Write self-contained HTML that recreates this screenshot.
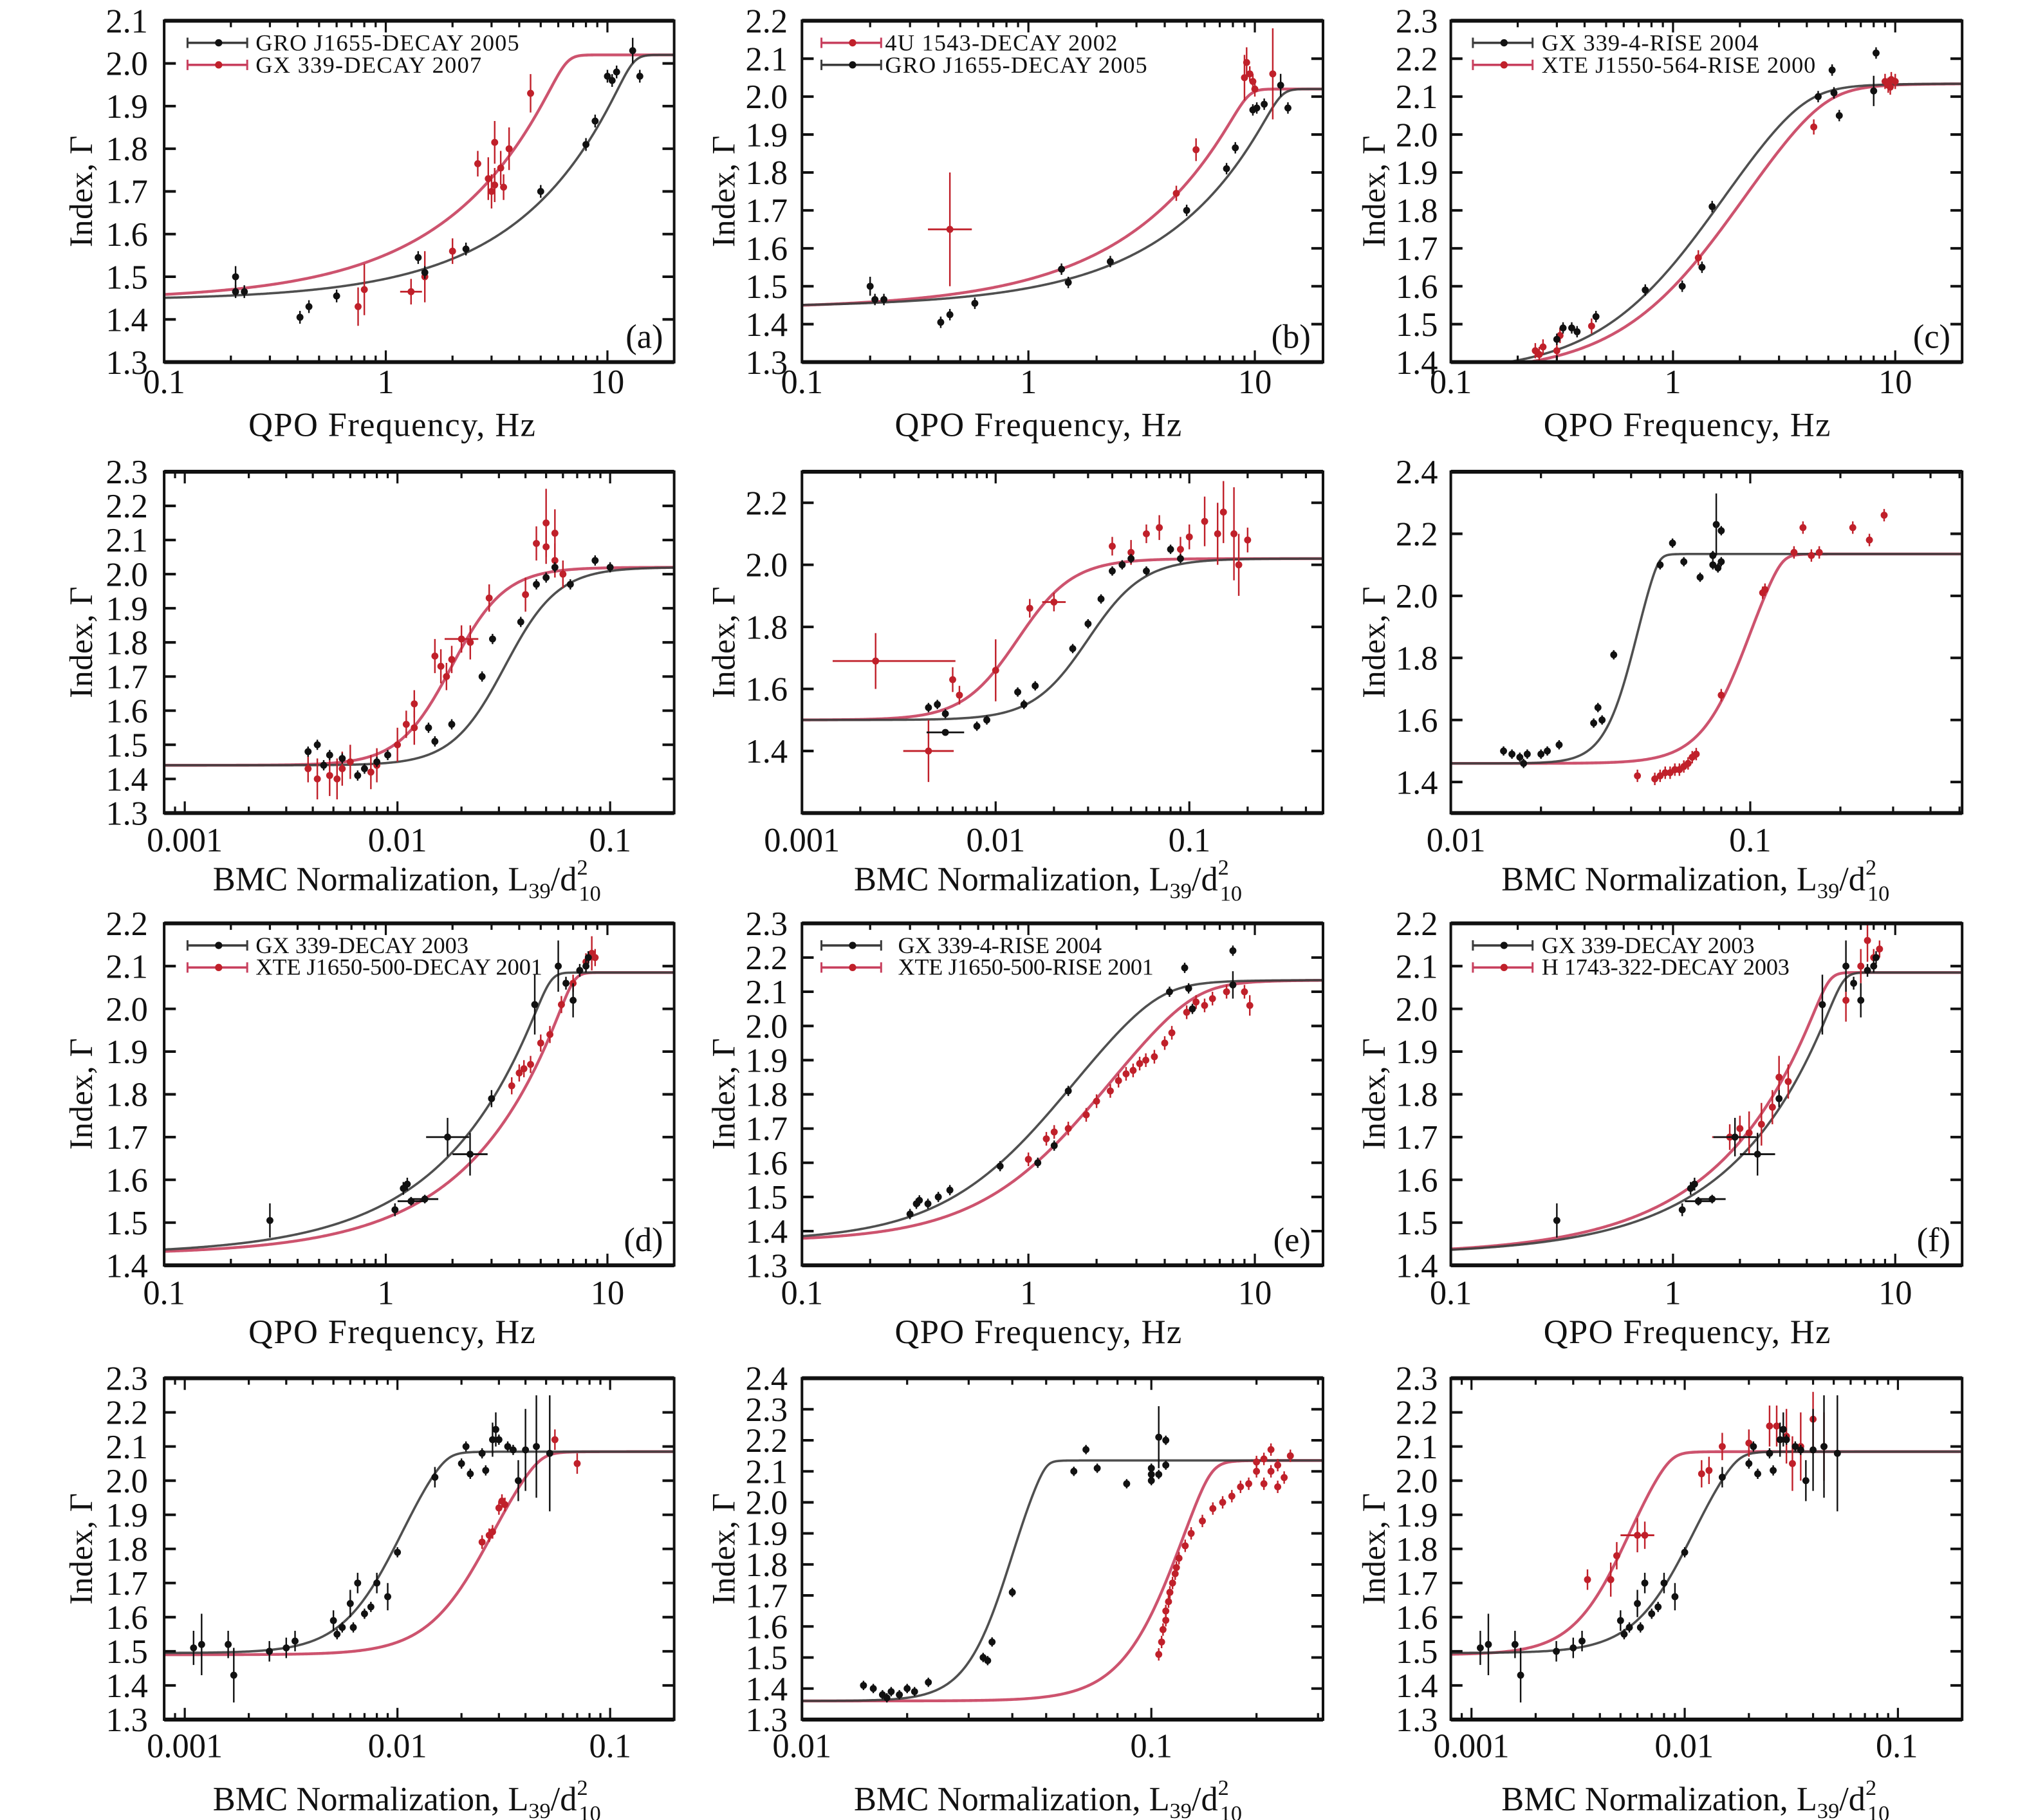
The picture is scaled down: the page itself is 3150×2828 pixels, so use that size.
<!DOCTYPE html>
<html><head><meta charset="utf-8">
<style>
html,body{margin:0;padding:0;background:#fff;}
svg{display:block;}
text{font-family:"Liberation Serif","Times New Roman",serif;fill:#111;}
.yl{font-size:26px;text-anchor:end;}
.xl{font-size:26px;text-anchor:middle;}
.tt{font-size:26px;text-anchor:middle;}
.lg{font-size:18px;}
.pl{font-size:26px;text-anchor:end;}
.ya{font-size:25px;text-anchor:middle;}
</style></head>
<body>
<svg id="s" xmlns="http://www.w3.org/2000/svg" width="3150" height="2828" viewBox="0 0 1562 1402.4" preserveAspectRatio="none" font-family="Liberation Serif, serif">
<rect width="1562" height="1402.4" fill="#fff"/>
<g id="gfx"></g>
<!-- ===== ROW 1 ===== -->
<g>
<text class="yl" x="114" y="288">1.3</text><text class="yl" x="114" y="255.1">1.4</text><text class="yl" x="114" y="222.3">1.5</text><text class="yl" x="114" y="189.4">1.6</text><text class="yl" x="114" y="156.5">1.7</text><text class="yl" x="114" y="123.6">1.8</text><text class="yl" x="114" y="90.8">1.9</text><text class="yl" x="114" y="57.9">2.0</text><text class="yl" x="114" y="25">2.1</text>
<text class="xl" x="126.5" y="303">0.1</text><text class="xl" x="297.3" y="303">1</text><text class="xl" x="468.1" y="303">10</text>
<text class="tt" x="302" y="336" textLength="221">QPO Frequency, Hz</text>
<text class="ya" transform="translate(71,147.5) rotate(-90)" textLength="86">Index, Γ</text>
<text class="pl" x="511" y="268">(a)</text>
<text class="lg" x="197" y="39" textLength="203">GRO J1655-DECAY 2005</text>
<text class="lg" x="197" y="56" textLength="174">GX 339-DECAY 2007</text>

<text class="yl" x="607" y="288">1.3</text><text class="yl" x="607" y="258.8">1.4</text><text class="yl" x="607" y="229.6">1.5</text><text class="yl" x="607" y="200.3">1.6</text><text class="yl" x="607" y="171.1">1.7</text><text class="yl" x="607" y="141.9">1.8</text><text class="yl" x="607" y="112.7">1.9</text><text class="yl" x="607" y="83.4">2.0</text><text class="yl" x="607" y="54.2">2.1</text><text class="yl" x="607" y="25">2.2</text>
<text class="xl" x="618" y="303">0.1</text><text class="xl" x="792.5" y="303">1</text><text class="xl" x="967" y="303">10</text>
<text class="tt" x="800" y="336" textLength="221">QPO Frequency, Hz</text>
<text class="ya" transform="translate(566,147.5) rotate(-90)" textLength="86">Index, Γ</text>
<text class="pl" x="1010" y="268">(b)</text>
<text class="lg" x="682" y="39" textLength="179">4U 1543-DECAY 2002</text>
<text class="lg" x="682" y="56" textLength="202">GRO J1655-DECAY 2005</text>

<text class="yl" x="1108" y="288">1.4</text><text class="yl" x="1108" y="258.8">1.5</text><text class="yl" x="1108" y="229.6">1.6</text><text class="yl" x="1108" y="200.3">1.7</text><text class="yl" x="1108" y="171.1">1.8</text><text class="yl" x="1108" y="141.9">1.9</text><text class="yl" x="1108" y="112.7">2.0</text><text class="yl" x="1108" y="83.4">2.1</text><text class="yl" x="1108" y="54.2">2.2</text><text class="yl" x="1108" y="25">2.3</text>
<text class="xl" x="1118" y="303">0.1</text><text class="xl" x="1289" y="303">1</text><text class="xl" x="1460.5" y="303">10</text>
<text class="tt" x="1300" y="336" textLength="221">QPO Frequency, Hz</text>
<text class="ya" transform="translate(1067,147.5) rotate(-90)" textLength="86">Index, Γ</text>
<text class="pl" x="1503" y="268">(c)</text>
<text class="lg" x="1188" y="39" textLength="167">GX 339-4-RISE 2004</text>
<text class="lg" x="1188" y="56" textLength="211">XTE J1550-564-RISE 2000</text>
</g>
<!-- ===== ROW 2 ===== -->
<g>
<text class="yl" x="114" y="635.5">1.3</text><text class="yl" x="114" y="609.2">1.4</text><text class="yl" x="114" y="582.9">1.5</text><text class="yl" x="114" y="556.6">1.6</text><text class="yl" x="114" y="530.3">1.7</text><text class="yl" x="114" y="504">1.8</text><text class="yl" x="114" y="477.7">1.9</text><text class="yl" x="114" y="451.4">2.0</text><text class="yl" x="114" y="425.1">2.1</text><text class="yl" x="114" y="398.8">2.2</text><text class="yl" x="114" y="372.5">2.3</text>
<text class="xl" x="142.4" y="656">0.001</text><text class="xl" x="306.3" y="656">0.01</text><text class="xl" x="470.2" y="656">0.1</text>
<text class="tt" x="164" y="686" style="text-anchor:start">BMC Normalization, L<tspan font-size="17" dy="6">39</tspan><tspan dy="-6">/d</tspan><tspan font-size="17" dy="-12">2</tspan><tspan font-size="17" dx="-7" dy="20">10</tspan></text>
<text class="ya" transform="translate(71,495) rotate(-90)" textLength="86">Index, Γ</text>

<text class="yl" x="607" y="587.7">1.4</text><text class="yl" x="607" y="539.9">1.6</text><text class="yl" x="607" y="492.1">1.8</text><text class="yl" x="607" y="444.2">2.0</text><text class="yl" x="607" y="396.4">2.2</text>
<text class="xl" x="618" y="656">0.001</text><text class="xl" x="767.3" y="656">0.01</text><text class="xl" x="916.6" y="656">0.1</text>
<text class="tt" x="658" y="686" style="text-anchor:start">BMC Normalization, L<tspan font-size="17" dy="6">39</tspan><tspan dy="-6">/d</tspan><tspan font-size="17" dy="-12">2</tspan><tspan font-size="17" dx="-7" dy="20">10</tspan></text>
<text class="ya" transform="translate(566,495) rotate(-90)" textLength="86">Index, Γ</text>

<text class="yl" x="1108" y="611.6">1.4</text><text class="yl" x="1108" y="563.8">1.6</text><text class="yl" x="1108" y="516">1.8</text><text class="yl" x="1108" y="468.2">2.0</text><text class="yl" x="1108" y="420.3">2.2</text><text class="yl" x="1108" y="372.5">2.4</text>
<text class="xl" x="1122" y="656">0.01</text><text class="xl" x="1348.7" y="656">0.1</text>
<text class="tt" x="1157" y="686" style="text-anchor:start">BMC Normalization, L<tspan font-size="17" dy="6">39</tspan><tspan dy="-6">/d</tspan><tspan font-size="17" dy="-12">2</tspan><tspan font-size="17" dx="-7" dy="20">10</tspan></text>
<text class="ya" transform="translate(1067,495) rotate(-90)" textLength="86">Index, Γ</text>
</g>
<!-- ===== ROW 3 ===== -->
<g>
<text class="yl" x="114" y="984">1.4</text><text class="yl" x="114" y="951.1">1.5</text><text class="yl" x="114" y="918.1">1.6</text><text class="yl" x="114" y="885.2">1.7</text><text class="yl" x="114" y="852.3">1.8</text><text class="yl" x="114" y="819.3">1.9</text><text class="yl" x="114" y="786.4">2.0</text><text class="yl" x="114" y="753.4">2.1</text><text class="yl" x="114" y="720.5">2.2</text>
<text class="xl" x="126.5" y="1005">0.1</text><text class="xl" x="297.3" y="1005">1</text><text class="xl" x="468.1" y="1005">10</text>
<text class="tt" x="302" y="1035" textLength="221">QPO Frequency, Hz</text>
<text class="ya" transform="translate(71,843) rotate(-90)" textLength="86">Index, Γ</text>
<text class="pl" x="511" y="964">(d)</text>
<text class="lg" x="197" y="734.5" textLength="164">GX 339-DECAY 2003</text>
<text class="lg" x="197" y="751" textLength="221">XTE J1650-500-DECAY 2001</text>

<text class="yl" x="607" y="984">1.3</text><text class="yl" x="607" y="957.7">1.4</text><text class="yl" x="607" y="931.3">1.5</text><text class="yl" x="607" y="905">1.6</text><text class="yl" x="607" y="878.6">1.7</text><text class="yl" x="607" y="852.3">1.8</text><text class="yl" x="607" y="825.9">1.9</text><text class="yl" x="607" y="799.6">2.0</text><text class="yl" x="607" y="773.2">2.1</text><text class="yl" x="607" y="746.9">2.2</text><text class="yl" x="607" y="720.5">2.3</text>
<text class="xl" x="618" y="1005">0.1</text><text class="xl" x="792.5" y="1005">1</text><text class="xl" x="967" y="1005">10</text>
<text class="tt" x="800" y="1035" textLength="221">QPO Frequency, Hz</text>
<text class="ya" transform="translate(566,843) rotate(-90)" textLength="86">Index, Γ</text>
<text class="pl" x="1010" y="964">(e)</text>
<text class="lg" x="692" y="734.5" textLength="157">GX 339-4-RISE 2004</text>
<text class="lg" x="692" y="751" textLength="197">XTE J1650-500-RISE 2001</text>

<text class="yl" x="1108" y="984">1.4</text><text class="yl" x="1108" y="951.1">1.5</text><text class="yl" x="1108" y="918.1">1.6</text><text class="yl" x="1108" y="885.2">1.7</text><text class="yl" x="1108" y="852.3">1.8</text><text class="yl" x="1108" y="819.3">1.9</text><text class="yl" x="1108" y="786.4">2.0</text><text class="yl" x="1108" y="753.4">2.1</text><text class="yl" x="1108" y="720.5">2.2</text>
<text class="xl" x="1118" y="1005">0.1</text><text class="xl" x="1289" y="1005">1</text><text class="xl" x="1460.5" y="1005">10</text>
<text class="tt" x="1300" y="1035" textLength="221">QPO Frequency, Hz</text>
<text class="ya" transform="translate(1067,843) rotate(-90)" textLength="86">Index, Γ</text>
<text class="pl" x="1503" y="964">(f)</text>
<text class="lg" x="1188" y="734.5" textLength="164">GX 339-DECAY 2003</text>
<text class="lg" x="1188" y="751" textLength="191">H 1743-322-DECAY 2003</text>
</g>
<!-- ===== ROW 4 ===== -->
<g>
<text class="yl" x="114" y="1334">1.3</text><text class="yl" x="114" y="1307.7">1.4</text><text class="yl" x="114" y="1281.4">1.5</text><text class="yl" x="114" y="1255.1">1.6</text><text class="yl" x="114" y="1228.8">1.7</text><text class="yl" x="114" y="1202.5">1.8</text><text class="yl" x="114" y="1176.2">1.9</text><text class="yl" x="114" y="1149.9">2.0</text><text class="yl" x="114" y="1123.6">2.1</text><text class="yl" x="114" y="1097.3">2.2</text><text class="yl" x="114" y="1071">2.3</text>
<text class="xl" x="142.4" y="1354">0.001</text><text class="xl" x="306.3" y="1354">0.01</text><text class="xl" x="470.2" y="1354">0.1</text>
<text class="tt" x="164" y="1395" style="text-anchor:start">BMC Normalization, L<tspan font-size="17" dy="6">39</tspan><tspan dy="-6">/d</tspan><tspan font-size="17" dy="-12">2</tspan><tspan font-size="17" dx="-7" dy="20">10</tspan></text>
<text class="ya" transform="translate(71,1193.5) rotate(-90)" textLength="86">Index, Γ</text>

<text class="yl" x="607" y="1334">1.3</text><text class="yl" x="607" y="1310.1">1.4</text><text class="yl" x="607" y="1286.2">1.5</text><text class="yl" x="607" y="1262.3">1.6</text><text class="yl" x="607" y="1238.4">1.7</text><text class="yl" x="607" y="1214.5">1.8</text><text class="yl" x="607" y="1190.5">1.9</text><text class="yl" x="607" y="1166.6">2.0</text><text class="yl" x="607" y="1142.7">2.1</text><text class="yl" x="607" y="1118.8">2.2</text><text class="yl" x="607" y="1094.9">2.3</text><text class="yl" x="607" y="1071">2.4</text>
<text class="xl" x="618" y="1354">0.01</text><text class="xl" x="887.2" y="1354">0.1</text>
<text class="tt" x="658" y="1395" style="text-anchor:start">BMC Normalization, L<tspan font-size="17" dy="6">39</tspan><tspan dy="-6">/d</tspan><tspan font-size="17" dy="-12">2</tspan><tspan font-size="17" dx="-7" dy="20">10</tspan></text>
<text class="ya" transform="translate(566,1193.5) rotate(-90)" textLength="86">Index, Γ</text>

<text class="yl" x="1108" y="1334">1.3</text><text class="yl" x="1108" y="1307.7">1.4</text><text class="yl" x="1108" y="1281.4">1.5</text><text class="yl" x="1108" y="1255.1">1.6</text><text class="yl" x="1108" y="1228.8">1.7</text><text class="yl" x="1108" y="1202.5">1.8</text><text class="yl" x="1108" y="1176.2">1.9</text><text class="yl" x="1108" y="1149.9">2.0</text><text class="yl" x="1108" y="1123.6">2.1</text><text class="yl" x="1108" y="1097.3">2.2</text><text class="yl" x="1108" y="1071">2.3</text>
<text class="xl" x="1133.9" y="1354">0.001</text><text class="xl" x="1297.8" y="1354">0.01</text><text class="xl" x="1461.7" y="1354">0.1</text>
<text class="tt" x="1157" y="1395" style="text-anchor:start">BMC Normalization, L<tspan font-size="17" dy="6">39</tspan><tspan dy="-6">/d</tspan><tspan font-size="17" dy="-12">2</tspan><tspan font-size="17" dx="-7" dy="20">10</tspan></text>
<text class="ya" transform="translate(1067,1193.5) rotate(-90)" textLength="86">Index, Γ</text>
</g>
</svg>
<script>
(function(){
var NS="http://www.w3.org/2000/svg";
var G=document.getElementById("gfx");
var BK="#111", RD="#c0202a", BKC="#3c3c3c", RDC="#c8405e";
function el(t,a,par){var e=document.createElementNS(NS,t);for(var k in a)e.setAttribute(k,a[k]);(par||G).appendChild(e);return e;}
var C=[[126.5,519.5],[618,1019.5],[1118,1512]];
var R=[[16,279],[363.5,626.5],[711.5,975],[1062,1325]];
var Q=[0.1,20];
function P(c,r,xr,yr,ys,curves,pts,leg){return {X0:C[c][0],X1:C[c][1],Y0:R[r][0],Y1:R[r][1],xmin:xr[0],xmax:xr[1],ymin:yr[0],ymax:yr[1],ys:ys,curves:curves,pts:pts,leg:leg};}
function cv(col,lo,hi,k,b){return {col:col,lo:lo,hi:hi,k:k,b:b};}
function lg(col,lo,hi,c,s,he,dy){return {col:col,lo:lo,hi:hi,c:c,s:s,L:1,he:he||hi,dy:dy||0.012};}
var blackA=[[0.21,1.50,0.025],[0.21,1.465],[0.23,1.465],[0.41,1.405],[0.45,1.43],[0.6,1.455],[1.4,1.545],[1.5,1.51],[2.3,1.565],[5,1.70],[8,1.81],[8.8,1.865],[10,1.97],[10.5,1.96],[11,1.98],[13,2.03,0.03],[14,1.97]];
var blackD=[[0.3,1.505,0.04],[1.1,1.53],[1.2,1.58],[1.25,1.59],[1.3,1.55,0.01,1.15],[1.5,1.555,0.01,1.15],[1.9,1.70,0.045,1.25],[2.4,1.66,0.05,1.2],[3,1.79,0.02],[4.7,2.01,0.07],[6,2.10,0.06],[6.5,2.06],[7,2.02,0.04],[7.5,2.09],[8,2.10],[8.2,2.12]];
var blackR4=[[0.0011,1.51,0.05],[0.0012,1.52,0.09],[0.0016,1.52,0.04],[0.0017,1.43,0.08],[0.0025,1.50,0.03],[0.003,1.51,0.03],[0.0033,1.53,0.03],[0.005,1.59,0.03],[0.0052,1.55],[0.0055,1.57],[0.006,1.64,0.04],[0.0062,1.57],[0.0065,1.70,0.03],[0.007,1.61],[0.0075,1.63],[0.008,1.70,0.03],[0.009,1.66,0.04],[0.01,1.79],[0.015,2.01,0.03],[0.02,2.05],[0.021,2.10],[0.022,2.02],[0.025,2.08],[0.026,2.03],[0.028,2.12,0.05],[0.029,2.15,0.05],[0.03,2.12],[0.033,2.10],[0.035,2.09],[0.037,2.0,0.06],[0.04,2.09,0.12],[0.045,2.1,0.15],[0.052,2.08,0.17]];
var panels=[
P(0,0,Q,[1.3,2.1],0.1,[cv(BKC,1.445,2.02,13,0.95),cv(RDC,1.445,2.02,6.5,0.9)],
 {k:blackA,r:[[0.75,1.43,0.045],[0.8,1.47,0.06],[1.3,1.465,0.03,1.12],[1.5,1.50,0.06],[2,1.56,0.03],[2.6,1.765,0.03],[2.9,1.73,0.05],[3,1.70,0.04],[3.1,1.715,0.04],[3.1,1.815,0.05],[3.3,1.755,0.04],[3.4,1.71,0.03],[3.6,1.80,0.05],[4.5,1.93,0.045]]},[BK,RD]),
P(1,0,Q,[1.3,2.2],0.1,[cv(BKC,1.445,2.02,13,0.95),cv(RDC,1.44,2.02,9.3,0.9)],
 {k:[[0.2,1.50,0.025],[0.21,1.465],[0.23,1.465],[0.41,1.405],[0.45,1.425],[0.58,1.455],[1.4,1.545],[1.5,1.51],[2.3,1.565],[5,1.70],[7.5,1.81],[8.2,1.865],[9.8,1.965],[10.2,1.97],[11,1.98],[13,2.03,0.03],[14,1.97]],
  r:[[0.45,1.65,0.15,1.25],[4.5,1.745],[5.5,1.86,0.03],[9,2.05,0.06],[9.2,2.09,0.04],[9.5,2.06],[9.8,2.04],[10,2.02],[12,2.06,0.12]]},[RD,BK]),
P(2,0,Q,[1.4,2.3],0.1,[lg(BKC,1.37,2.135,1.7,3.5,2.3,0.04),lg(RDC,1.37,2.135,2.1,3.5,2.3,0.04)],
 {k:[[0.3,1.46],[0.32,1.49],[0.35,1.49],[0.37,1.48],[0.45,1.52],[0.75,1.59],[1.1,1.60],[1.35,1.65],[1.5,1.81],[4.5,2.10],[5.2,2.17],[5.3,2.11],[5.6,2.05],[8,2.115,0.04],[8.2,2.215]],
  r:[[0.24,1.43],[0.25,1.42],[0.26,1.44],[0.3,1.43],[0.31,1.47],[0.43,1.495],[1.3,1.675],[4.3,2.02],[9,2.14],[9.3,2.13],[9.6,2.145],[10,2.14],[9.5,2.125]]},[BK,RD]),
P(0,1,[0.0008,0.2],[1.3,2.3],0.1,[lg(BKC,1.44,2.02,0.032,8),lg(RDC,1.44,2.02,0.018,8)],
 {k:[[0.0038,1.48],[0.0042,1.50],[0.0045,1.44],[0.0048,1.47],[0.0055,1.46],[0.0065,1.41],[0.007,1.43],[0.008,1.45],[0.009,1.47],[0.014,1.55],[0.015,1.51],[0.018,1.56],[0.025,1.70],[0.028,1.81],[0.038,1.86],[0.045,1.97],[0.05,1.99],[0.055,2.02],[0.065,1.97],[0.085,2.04],[0.1,2.02]],
  r:[[0.0038,1.43,0.04],[0.0042,1.40,0.06],[0.0048,1.41,0.06],[0.0052,1.40,0.06],[0.0055,1.43,0.05],[0.006,1.45,0.05],[0.0075,1.42,0.05],[0.008,1.44,0.05],[0.01,1.50,0.05],[0.011,1.56,0.04],[0.012,1.55,0.05],[0.012,1.62,0.04],[0.015,1.76,0.05],[0.016,1.73,0.05],[0.017,1.70,0.04],[0.018,1.75,0.04],[0.02,1.81,0.04,1.2],[0.022,1.80,0.05],[0.027,1.93,0.04],[0.04,1.94,0.05],[0.045,2.09,0.05],[0.05,2.15,0.1],[0.05,2.08,0.05],[0.055,2.04,0.05],[0.06,2.0,0.04],[0.055,2.12,0.07]]},null),
P(1,1,[0.001,0.49],[1.2,2.3],0.2,[lg(BKC,1.50,2.02,0.03,7),lg(RDC,1.50,2.02,0.013,7)],
 {k:[[0.0045,1.54],[0.005,1.55],[0.0055,1.52],[0.0055,1.46,0.01,1.25],[0.008,1.48],[0.009,1.50],[0.013,1.59],[0.014,1.55],[0.016,1.61],[0.025,1.73],[0.03,1.81],[0.035,1.89],[0.04,1.98],[0.045,2.0],[0.05,2.02],[0.06,1.98],[0.08,2.05],[0.09,2.02]],
  r:[[0.0024,1.69,0.09,[0.0024*0.6,0.0062]],[0.0045,1.40,0.1,1.35],[0.006,1.63,0.04],[0.0065,1.58,0.03],[0.01,1.66,0.1],[0.015,1.86,0.03],[0.02,1.88,0.03,1.15],[0.04,2.06,0.03],[0.05,2.04,0.04],[0.06,2.1,0.03],[0.07,2.12,0.04],[0.09,2.05,0.04],[0.1,2.09,0.04],[0.12,2.14,0.08],[0.14,2.1,0.1],[0.15,2.17,0.1],[0.17,2.1,0.15],[0.18,2.0,0.1],[0.2,2.08,0.04]]},null),
P(2,1,[0.01,0.51],[1.3,2.4],0.2,[lg(BKC,1.46,2.135,0.042,18,2.3,0.025),lg(RDC,1.46,2.135,0.1,12,2.3,0.025)],
 {k:[[0.015,1.50],[0.016,1.49],[0.017,1.48],[0.0175,1.46],[0.018,1.49],[0.02,1.49],[0.021,1.50],[0.023,1.52],[0.03,1.59],[0.031,1.64],[0.032,1.60],[0.035,1.81],[0.05,2.10],[0.055,2.17],[0.06,2.11],[0.068,2.06],[0.075,2.10],[0.075,2.13],[0.077,2.23,0.1],[0.08,2.21],[0.08,2.11],[0.078,2.09]],
  r:[[0.042,1.42],[0.048,1.41],[0.05,1.42],[0.052,1.43],[0.054,1.43],[0.056,1.44],[0.058,1.44],[0.06,1.45],[0.062,1.46],[0.064,1.48],[0.066,1.49],[0.08,1.68],[0.11,2.01],[0.112,2.02],[0.14,2.14],[0.15,2.22],[0.16,2.13],[0.17,2.14],[0.22,2.22],[0.25,2.18],[0.28,2.26]]},null),
P(0,2,Q,[1.4,2.2],0.1,[cv(BKC,1.425,2.085,5.5,1),cv(RDC,1.425,2.085,7,1.05)],
 {k:blackD,r:[[3.7,1.82],[4,1.85],[4.2,1.86],[4.5,1.87],[5,1.92],[5.5,1.94],[6.2,2.01],[7,2.06],[8,2.11],[8.5,2.13,0.04],[8.8,2.12]]},[BK,RD]),
P(1,2,Q,[1.3,2.3],0.1,[lg(BKC,1.37,2.135,1.6,3.4,2.3,0.04),lg(RDC,1.37,2.135,2.3,3.4,2.3,0.04)],
 {k:[[0.3,1.45],[0.32,1.48],[0.33,1.49],[0.36,1.48],[0.4,1.50],[0.45,1.52],[0.75,1.59],[1.1,1.60],[1.3,1.65],[1.5,1.81],[4.2,2.10],[4.9,2.17],[5.1,2.11],[5.3,2.05],[8,2.12,0.04],[8,2.22]],
  r:[[1,1.61],[1.2,1.67],[1.3,1.69],[1.5,1.70],[1.8,1.74],[2,1.78],[2.3,1.81],[2.5,1.84],[2.7,1.86],[2.9,1.87],[3.1,1.89],[3.3,1.90],[3.6,1.91],[4,1.95],[4.3,1.98],[5,2.04],[5.5,2.07],[6,2.06],[6.5,2.08],[7.5,2.10],[9,2.10],[9.5,2.06,0.03]]},[BK,RD]),
P(2,2,Q,[1.4,2.2],0.1,[cv(BKC,1.425,2.085,5.8,1),cv(RDC,1.425,2.085,5,1)],
 {k:blackD,r:[[1.8,1.70,0.03,1.2],[2,1.72,0.03],[2.2,1.71,0.05],[2.5,1.73,0.05],[2.8,1.77,0.04],[3,1.84,0.05],[3.3,1.83,0.04],[6,2.02,0.05],[7,2.10,0.04],[7.5,2.16,0.05],[8,2.12],[8.5,2.14]]},[BK,RD]),
P(0,3,[0.0008,0.2],[1.3,2.3],0.1,[lg(BKC,1.495,2.085,0.0105,7,2.2,0.02),lg(RDC,1.49,2.085,0.028,6.5,2.2,0.02)],
 {k:blackR4,r:[[0.025,1.82],[0.027,1.84],[0.028,1.85],[0.03,1.92],[0.031,1.94],[0.032,1.93],[0.055,2.12,0.03],[0.07,2.05,0.03]]},null),
P(1,3,[0.01,0.31],[1.3,2.4],0.1,[lg(BKC,1.36,2.135,0.04,15,2.3,0.02),lg(RDC,1.36,2.135,0.125,11,2.45,0.045)],
 {k:[[0.015,1.41],[0.016,1.40],[0.017,1.38],[0.0175,1.37],[0.018,1.39],[0.019,1.38],[0.02,1.40],[0.021,1.39],[0.023,1.42],[0.033,1.50],[0.034,1.49],[0.035,1.55],[0.04,1.71],[0.06,2.10],[0.065,2.17],[0.07,2.11],[0.085,2.06],[0.1,2.09],[0.1,2.11],[0.105,2.21,0.1],[0.11,2.2],[0.11,2.12],[0.105,2.09],[0.1,2.07]],
  r:[[0.105,1.51],[0.107,1.55],[0.108,1.59],[0.11,1.62],[0.11,1.65],[0.112,1.68],[0.113,1.71],[0.115,1.74],[0.117,1.77],[0.118,1.79],[0.12,1.82],[0.125,1.86],[0.13,1.90],[0.14,1.94],[0.15,1.98],[0.16,2.0],[0.17,2.02],[0.18,2.05],[0.19,2.06],[0.2,2.1],[0.2,2.13],[0.21,2.14],[0.22,2.17],[0.22,2.10],[0.23,2.12],[0.23,2.05],[0.24,2.08],[0.25,2.15],[0.21,2.06]]},null),
P(2,3,[0.0008,0.2],[1.3,2.3],0.1,[lg(BKC,1.495,2.085,0.011,7,2.2,0.02),lg(RDC,1.49,2.085,0.0055,7.5,2.2,0.02)],
 {k:blackR4,r:[[0.0035,1.71,0.03],[0.0045,1.71,0.05],[0.0048,1.78,0.04],[0.006,1.84,0.05,1.2],[0.0065,1.84,0.04],[0.012,2.02,0.04],[0.013,2.03,0.04],[0.015,2.10,0.04],[0.02,2.11,0.04],[0.025,2.16,0.06],[0.027,2.16,0.06],[0.03,2.13,0.08],[0.032,2.05,0.08],[0.035,2.10,0.1],[0.04,2.18,0.08],[0.045,2.1,0.1]]},null)
];
var cid=0;
panels.forEach(function(p){
  var lx0=Math.log10(p.xmin),lx1=Math.log10(p.xmax);
  function X(v){return p.X0+(Math.log10(v)-lx0)/(lx1-lx0)*(p.X1-p.X0);}
  function Y(v){return p.Y1-(v-p.ymin)/(p.ymax-p.ymin)*(p.Y1-p.Y0);}
  var id="c"+(cid++);
  var cp=el("clipPath",{id:id});el("rect",{x:p.X0,y:p.Y0,width:p.X1-p.X0,height:p.Y1-p.Y0},cp);
  var g=el("g",{"clip-path":"url(#"+id+")"});
  p.curves.slice().reverse().forEach(function(c){
    var d="",D=0.05;
    for(var i=0;i<=400;i++){
      var lv=lx0+(lx1-lx0)*i/400,x=Math.pow(10,lv),y;
      if(c.L){
        var a=c.lo+(c.he-c.lo)/(1+Math.exp(-(lv-Math.log10(c.c))*c.s));
        if(c.he>c.hi){var Dy=c.dy,t=(c.hi-a)/Dy;var sp2=t>30?t:Math.log(1+Math.exp(t));y=c.hi-Dy*sp2;}else y=a;
      }
      else{var u=Math.pow(x/c.k,c.b),s=(1-u)/D;var sp=s>30?s:Math.log(1+Math.exp(s));y=c.lo+(c.hi-c.lo)*(1-D*sp);}
      d+=(i?"L":"M")+X(x).toFixed(2)+" "+Y(y).toFixed(2);
    }
    el("path",{d:d,fill:"none",stroke:c.col,"stroke-width":c.col==RDC?2.2:1.8,"stroke-opacity":0.9},g);
  });
  function pts(arr,col,de){
    arr.forEach(function(q){
      var x=X(q[0]),y=Y(q[1]),e=q[2]||de;
      el("line",{x1:x,x2:x,y1:Y(q[1]-e),y2:Y(q[1]+e),stroke:col,"stroke-width":1.2},g);
      if(q[3]){var a,b;if(Array.isArray(q[3])){a=q[3][0];b=q[3][1];}else{a=q[0]/q[3];b=q[0]*q[3];}
        el("line",{x1:X(a),x2:X(b),y1:y,y2:y,stroke:col,"stroke-width":1.4},g);}
      el("circle",{cx:x,cy:y,r:2.7,fill:col},g);
    });
  }
  pts(p.pts.r,RD,0.02);pts(p.pts.k,BK,0.015);
  el("rect",{x:p.X0,y:p.Y0,width:p.X1-p.X0,height:p.Y1-p.Y0,fill:"none",stroke:"#111","stroke-width":2});
  el("line",{x1:p.X0,x2:p.X1,y1:p.Y0,y2:p.Y0,stroke:"#111","stroke-width":3});
  el("line",{x1:p.X0,x2:p.X1,y1:p.Y1,y2:p.Y1,stroke:"#111","stroke-width":3});
  for(var dd=Math.floor(lx0);dd<=Math.ceil(lx1);dd++){for(var m=1;m<=9;m++){
    var v=m*Math.pow(10,dd);if(v<p.xmin*1.0001||v>p.xmax*0.9999)continue;
    var x=X(v),L=m==1?9:5;
    el("line",{x1:x,x2:x,y1:p.Y1,y2:p.Y1-L,stroke:"#111","stroke-width":1.6});
    el("line",{x1:x,x2:x,y1:p.Y0,y2:p.Y0+L,stroke:"#111","stroke-width":1.6});
  }}
  var n=Math.round((p.ymax-p.ymin)/0.1);
  for(var i=1;i<n;i++){
    var v=p.ymin+i*0.1;
    if(p.ys>0.15){var r=Math.round(v*10)%2;if(r!=0)continue;}
    var y=Y(v);
    el("line",{x1:p.X0,x2:p.X0+9,y1:y,y2:y,stroke:"#111","stroke-width":2});
    el("line",{x1:p.X1,x2:p.X1-9,y1:y,y2:y,stroke:"#111","stroke-width":2});
  }
  if(p.leg){
    var lx=p.X0+(p.X0<600?18:(p.X0<1100?15:17));
    p.leg.forEach(function(col,i){
      var y=p.Y0+17+i*17,lc=col==RD?RDC:BKC;
      el("line",{x1:lx,x2:lx+46,y1:y,y2:y,stroke:lc,"stroke-width":1.8});
      el("line",{x1:lx,x2:lx,y1:y-4,y2:y+4,stroke:lc,"stroke-width":1.5});
      el("line",{x1:lx+46,x2:lx+46,y1:y-4,y2:y+4,stroke:lc,"stroke-width":1.5});
      el("circle",{cx:lx+24,cy:y,r:2.8,fill:col});
    });
  }
});
})();
</script>
</body></html>
